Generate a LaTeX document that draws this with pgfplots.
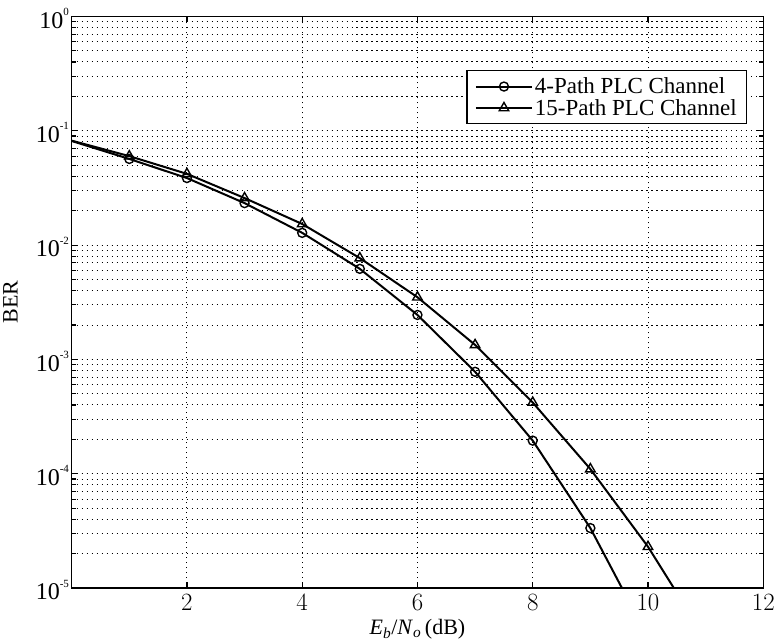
\documentclass[border=0pt]{standalone}
\usepackage{fontspec}
\setmainfont{Liberation Serif}
\usepackage{pgfplots}
\pgfplotsset{compat=1.18}

\begin{document}
\begin{tikzpicture}
\begin{axis}[
  width=692pt, height=572pt, scale only axis,
  xmin=0, xmax=12, ymin=1e-5, ymax=1,
  ymode=log, log basis y=10,
  xtick={2,4,...,12},
  yticklabel={\pgfmathtruncatemacro{\e}{round(\tick)}10\raisebox{1.15ex}{\fontsize{11}{12}\selectfont\e}},
  xticklabel style={font=\fontsize{23}{25}\selectfont, yshift=-3pt},
  yticklabel style={font=\fontsize{24}{26}\selectfont, inner xsep=2.5pt, yshift=-2pt},
  xmajorgrids, ymajorgrids, yminorgrids,
  major grid style={black, line width=1pt, dash pattern=on 1.2pt off 3.8pt},
  minor grid style={black, line width=1pt, dash pattern=on 1.2pt off 3.8pt},
  axis line style={line width=1.5pt},
  tick style={black, line width=1.2pt},
  major tick length=6pt, minor tick length=4pt,
  xlabel={\textit{E}\textsubscript{\textit{b}}/\textit{N}\textsubscript{\textit{o}}\,(dB)},
  ylabel={BER},
  label style={font=\fontsize{22}{24}\selectfont},
  xlabel style={yshift=-2pt},
  ylabel style={yshift=12pt},
  legend style={at={(0.977,0.906)}, anchor=north east, draw=black, line width=1.3pt,
    font=\fontsize{23}{30}\selectfont, inner xsep=8pt, inner ysep=5pt},
  legend image code/.code={
    \draw[#1, mark indices={2}] plot coordinates {(0pt,0pt) (28pt,0pt) (56pt,0pt)};},
  legend cell align=left,
]
\addplot[black, line width=2pt, mark=o, mark size=4.5pt, mark indices={2,...,11},
  mark options={fill=white, line width=1.4pt, solid}]
  coordinates {(0,0.0814) (1,0.0567) (2,0.0386) (3,0.0233) (4,0.0128) (5,0.0062)
  (6,0.00245) (7,0.00078) (8,0.000195) (9,3.35e-5) (10,3.7e-6)};
\addlegendentry{4-Path PLC Channel}
\addplot[black, line width=2pt, mark=triangle, mark size=5.5pt, mark indices={2,...,12},
  mark options={fill=white, line width=1.4pt, solid}]
  coordinates {(0,0.082) (1,0.060) (2,0.042) (3,0.0258) (4,0.0153) (5,0.0077)
  (6,0.0035) (7,0.00134) (8,0.00042) (9,0.00011) (10,2.3e-5) (11,3.6e-6)};
\addlegendentry{15-Path PLC Channel}
\end{axis}
\path (current bounding box.north) ++(0,5pt);
\end{tikzpicture}
\end{document}
